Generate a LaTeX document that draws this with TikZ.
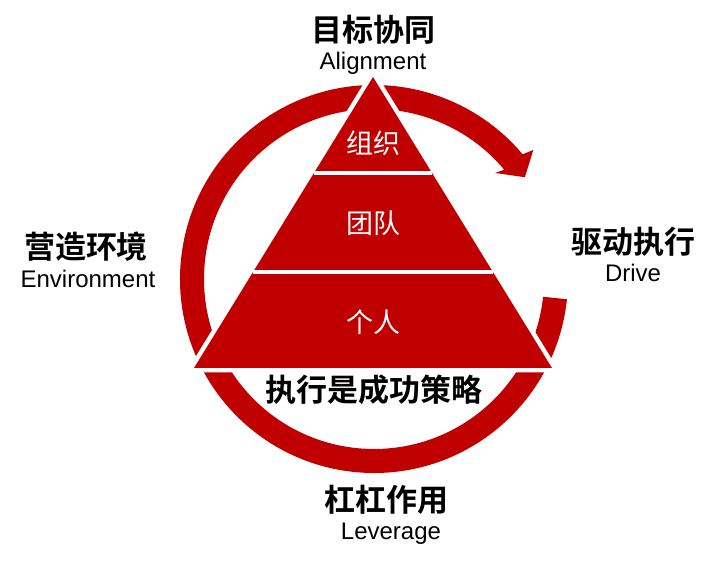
\documentclass[tikz,border=0pt]{standalone}
\usepackage{fontspec}
\setmainfont{Liberation Sans}
\newfontfamily\cjk{Noto Sans CJK SC}
\newfontfamily\cjkb{Noto Sans CJK SC Bold}
\definecolor{dred}{HTML}{C00000}
\begin{document}
\begin{tikzpicture}[x=1pt,y=1pt,
  title/.style={inner sep=0pt,font=\cjkb\fontsize{31}{31}\selectfont,text=black},
  sub/.style={inner sep=0pt,anchor=base,font=\fontsize{24}{24}\selectfont,text=black},
  lvl/.style={inner sep=0pt,font=\cjk\fontsize{27}{27}\selectfont,text=white}]
\useasboundingbox (0,0) rectangle (716,563);
\coordinate (c) at (374,284);
% ring with arrowhead
\fill[dred] ([shift={(c)}]-6:194) arc[start angle=-6,end angle=-320,radius=194]
  -- ([shift={(c)}]39:205) -- ([shift={(c)}]34:182) -- ([shift={(c)}]41.2:161)
  -- ([shift={(c)}]40:170) arc[start angle=-320,end angle=-6,radius=170] -- cycle;
% pyramid
\coordinate (apex) at (373,486);
\coordinate (bl) at (194,195);
\coordinate (br) at (552,195);
\draw[white,line width=9pt,line join=round] (apex) -- (bl) -- (br) -- cycle;
\fill[dred] (apex) -- (bl) -- (br) -- cycle;
\draw[white,line width=4pt] (314,390) -- (432,390);
\draw[white,line width=4pt] (253,291) -- (493,291);
% labels
\node[lvl] (l1) at (373,420) {组织};
\node[lvl] (l2) at (373,340) {团队};
\node[lvl] (l3) at (373,241) {个人};
\node[title] (base) at (374,173) {执行是成功策略};
\node[title] (t1) at (373,533) {目标协同};
\node[sub] (s1) at (373,493) {Alignment};
\node[title] (t2) at (86,316) {营造环境};
\node[sub] (s2) at (88,275) {Environment};
\node[title] (t3) at (633,321) {驱动执行};
\node[sub] (s3) at (633,281) {Drive};
\node[title] (t4) at (386,63) {杠杠作用};
\node[sub] (s4) at (391,23) {Leverage};
\end{tikzpicture}
\end{document}
